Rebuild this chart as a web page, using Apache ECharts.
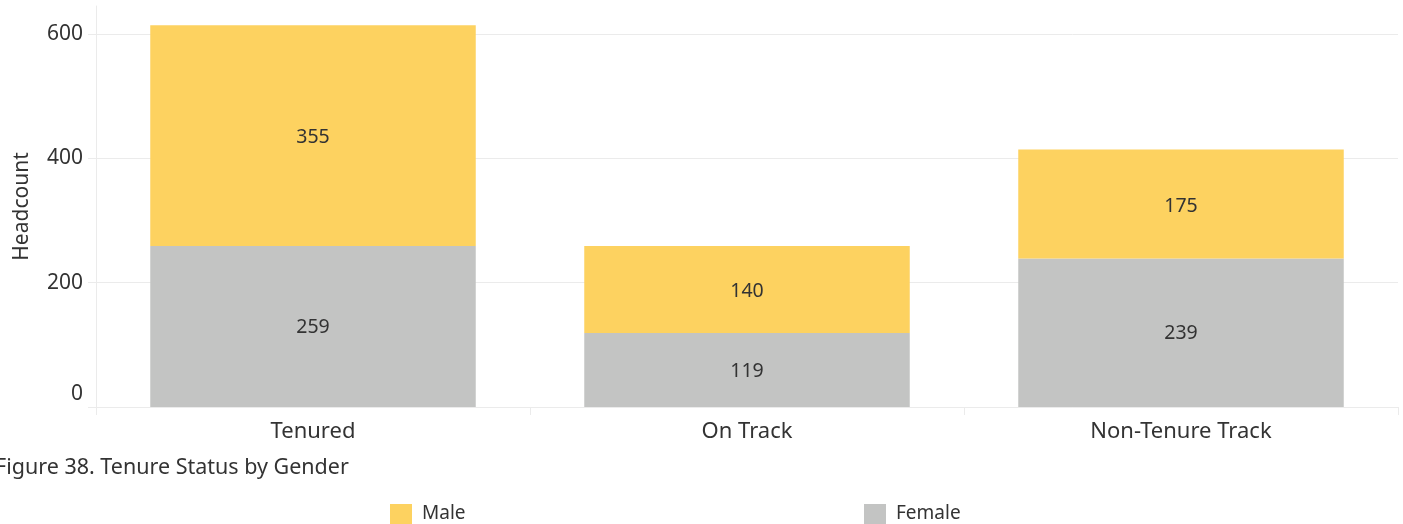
<!DOCTYPE html>
<html>
<head>
<meta charset="utf-8">
<script src="https://cdn.jsdelivr.net/npm/echarts@6/dist/echarts.min.js"></script>
<style>
  html, body { margin: 0; padding: 0; background: #fff; }
  #chart { width: 1403px; height: 524px; }
</style>
</head>
<body>
<div id="chart"></div>
<script>
// Headcount by tenure status, stacked by gender
const categories = ['Tenured', 'On Track', 'Non-Tenure Track'];
const femaleValues = [259, 119, 239];
const maleValues = [355, 140, 175];
const yTicks = [0, 200, 400, 600];

const FONT = '"Noto Sans", sans-serif';
const TEXT = '#333333';
const MALE = '#FDD260';
const FEMALE = '#C3C4C3';
const RULE = '#EBEBEB';

const chart = echarts.init(document.getElementById('chart'));

const legendBase = {
  padding: 0, top: 504, itemWidth: 22, itemHeight: 20, itemGap: 0, icon: 'rect',
  textStyle: { fontFamily: FONT, fontSize: 19, color: TEXT, padding: [6, 0, 0, 5] }
};

chart.setOption({
  animation: false,
  textStyle: { fontFamily: FONT },
  title: {
    text: 'Figure 38. Tenure Status by Gender',
    left: -5,
    top: 457,
    padding: 0,
    textStyle: { fontFamily: FONT, fontSize: 21.5, fontWeight: 'normal', color: TEXT }
  },
  legend: [
    Object.assign({ data: ['Male'], left: 390 }, legendBase),
    Object.assign({ data: ['Female'], left: 864 }, legendBase)
  ],
  grid: { left: 96, right: 5, top: 6, bottom: 117, containLabel: false },
  xAxis: {
    type: 'category',
    data: categories,
    axisLine: { lineStyle: { color: RULE, width: 1 } },
    axisTick: { show: true, length: 8, lineStyle: { color: RULE } },
    axisLabel: { fontFamily: FONT, fontSize: 22, color: TEXT, margin: 14 }
  },
  yAxis: {
    type: 'value',
    min: 0,
    max: 645,
    interval: 200,
    name: 'Headcount',
    nameLocation: 'middle',
    nameGap: 63,
    nameTextStyle: { fontFamily: FONT, fontSize: 21, color: TEXT },
    axisLine: { show: true, lineStyle: { color: RULE } },
    axisTick: { show: true, length: 8, lineStyle: { color: RULE } },
    splitLine: { lineStyle: { color: [RULE, RULE, RULE, RULE, 'rgba(0,0,0,0)'] } },
    axisLabel: {
      fontFamily: FONT, fontSize: 21, color: TEXT, margin: 13,
      showMaxLabel: false,
      formatter: v => (yTicks.indexOf(v) === -1 ? '' : (v === 0 ? '{z|0}' : String(v))),
      rich: { z: { fontFamily: FONT, fontSize: 21, color: TEXT, padding: [0, 0, 26, 0] } }
    }
  },
  series: [
    {
      name: 'Female', type: 'bar', stack: 'g', data: femaleValues, barWidth: '75%',
      itemStyle: { color: FEMALE },
      label: { show: true, position: 'inside', offset: [0, 1], fontFamily: FONT, fontSize: 19.5, color: TEXT }
    },
    {
      name: 'Male', type: 'bar', stack: 'g', data: maleValues, barWidth: '75%',
      itemStyle: { color: MALE },
      label: { show: true, position: 'inside', offset: [0, 2], fontFamily: FONT, fontSize: 19.5, color: TEXT }
    }
  ]
});
</script>
</body>
</html>
